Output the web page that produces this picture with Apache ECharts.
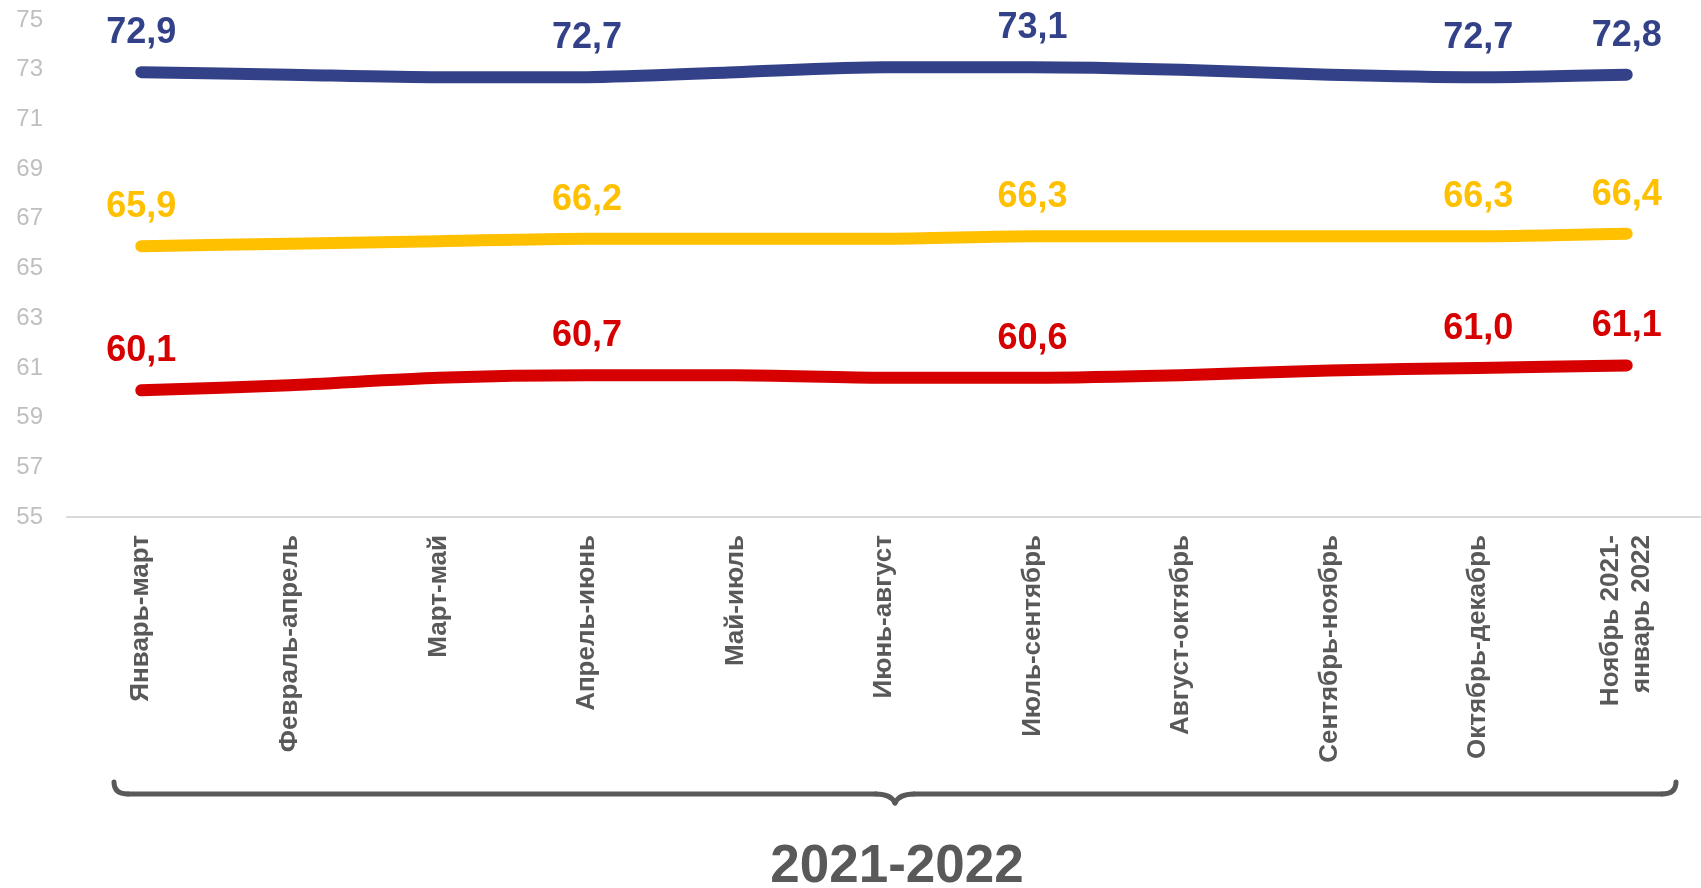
<!DOCTYPE html>
<html>
<head>
<meta charset="utf-8">
<script src="https://cdn.jsdelivr.net/npm/echarts@6/dist/echarts.min.js"></script>
<style>
html,body{margin:0;padding:0;background:#fff;}
#c{width:1701px;height:888px;}
</style>
</head>
<body>
<div id="c"></div>
<script>
var categories = ['Январь-март','Февраль-апрель','Март-май','Апрель-июнь','Май-июль','Июнь-август','Июль-сентябрь','Август-октябрь','Сентябрь-ноябрь','Октябрь-декабрь','Ноябрь 2021-\nянварь 2022'];
var seriesBlue   = [72.9, 72.8, 72.7, 72.7, 72.9, 73.1, 73.1, 73.0, 72.8, 72.7, 72.8];
var seriesYellow = [65.9, 66.0, 66.1, 66.2, 66.2, 66.2, 66.3, 66.3, 66.3, 66.3, 66.4];
var seriesRed    = [60.1, 60.3, 60.6, 60.7, 60.7, 60.6, 60.6, 60.7, 60.9, 61.0, 61.1];
var labelIdx = [0, 3, 6, 9, 10];
var yMin = 55, yMax = 75, yStep = 2;
var periodLabel = '2021-2022';

var chart = echarts.init(document.getElementById('c'));
var FONT = '"Liberation Sans", Arial, sans-serif';

function mkSeries(data, color) {
  return {
    type: 'line',
    data: data,
    smooth: 0.25,
    symbol: 'circle',
    symbolSize: 2,
    showSymbol: true,
    lineStyle: { width: 12, color: color, cap: 'round', join: 'round' },
    itemStyle: { color: color },
    label: {
      show: true,
      position: 'top',
      distance: 20,
      fontFamily: FONT,
      fontWeight: 'bold',
      fontSize: 36,
      color: color,
      formatter: function (p) {
        return labelIdx.indexOf(p.dataIndex) >= 0 ? p.value.toFixed(1).replace('.', ',') : '';
      }
    },
    z: 3
  };
}

var braceStyle = { fill: null, stroke: '#595959', lineWidth: 5, lineCap: 'round', lineJoin: 'round' };
function bez(x1, y1, cx, cy, x2, y2) {
  return { type: 'bezierCurve', shape: { x1: x1, y1: y1, cpx1: cx, cpy1: cy, x2: x2, y2: y2 }, style: braceStyle };
}
function seg(x1, y1, x2, y2) {
  return { type: 'line', shape: { x1: x1, y1: y1, x2: x2, y2: y2 }, style: braceStyle };
}

chart.setOption({
  animation: false,
  grid: { left: 67, width: 1641, top: 20, bottom: 371, containLabel: false },
  xAxis: {
    type: 'category',
    data: categories,
    boundaryGap: true,
    axisLine: { show: true, lineStyle: { color: '#d9d9d9', width: 2 } },
    axisTick: { show: false },
    axisLabel: {
      interval: 0,
      rotate: 90,
      margin: 18,
      fontFamily: FONT,
      fontWeight: 'bold',
      fontSize: 26,
      color: '#595959',
      lineHeight: 31
    },
    splitLine: { show: false }
  },
  yAxis: {
    type: 'value',
    min: yMin,
    max: yMax,
    interval: yStep,
    axisLine: { show: false },
    axisTick: { show: false },
    splitLine: { show: false },
    axisLabel: { fontFamily: FONT, fontSize: 24, color: '#bfbfbf', margin: 24 }
  },
  series: [
    mkSeries(seriesBlue, '#334188'),
    mkSeries(seriesYellow, '#FFC000'),
    mkSeries(seriesRed, '#D60000')
  ],
  graphic: [
    bez(114, 782, 114, 794, 128, 794),
    seg(128, 794, 876, 794),
    bez(876, 794, 891, 794, 895, 803),
    bez(895, 803, 899, 794, 914, 794),
    seg(914, 794, 1662, 794),
    bez(1662, 794, 1676, 794, 1676, 782),
    {
      type: 'text',
      x: 897,
      y: 867,
      style: {
        text: periodLabel,
        fontFamily: FONT,
        fontWeight: 'bold',
        fontSize: 53,
        fill: '#595959',
        textAlign: 'center',
        textVerticalAlign: 'middle'
      }
    }
  ]
});
</script>
</body>
</html>
